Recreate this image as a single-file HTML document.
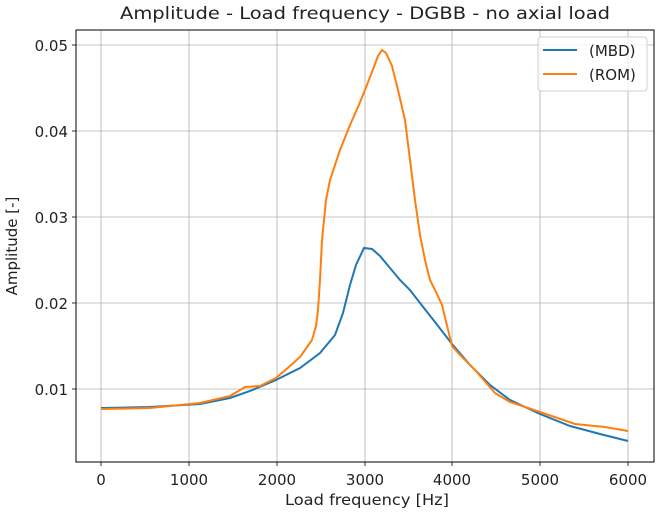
<!DOCTYPE html><html><head><style>body{margin:0;background:#fff}</style></head><body>
<svg width="659" height="515" xmlns="http://www.w3.org/2000/svg" font-family="DejaVu Sans, Liberation Sans, sans-serif">
<rect width="659" height="515" fill="#fff"/>
<g stroke="#b0b0b0" stroke-width="0.8">
<line x1="101" y1="30" x2="101" y2="462"/><line x1="189" y1="30" x2="189" y2="462"/><line x1="277" y1="30" x2="277" y2="462"/><line x1="365" y1="30" x2="365" y2="462"/><line x1="452" y1="30" x2="452" y2="462"/><line x1="540" y1="30" x2="540" y2="462"/><line x1="628" y1="30" x2="628" y2="462"/>
<line x1="76" y1="45" x2="654" y2="45"/><line x1="76" y1="131" x2="654" y2="131"/><line x1="76" y1="217" x2="654" y2="217"/><line x1="76" y1="303" x2="654" y2="303"/><line x1="76" y1="389" x2="654" y2="389"/>
</g>
<polyline fill="none" stroke="#1f77b4" stroke-width="2" points="101,408 150,407 200,404 230,398 250,391 276,380 300,368 320,353 335,335 343,313 350,285 356,265 364,248 372,249 380,256 390,268 400,280 410,290 420,303 435,322 452,344 470,365 490,385 510,400 540,414 570,426 600,434 628,441"/>
<polyline fill="none" stroke="#ff7f0e" stroke-width="2" points="101,409 150,408 200,403 230,396 245,387 260,386 276,378 290,366 300,357 305,350 312,340 316,326 318,310 320,280 322,240 326,200 330,180 340,150 350,125 358,107 365,90 372,72 378,56 382,50 386,53 392,66 398,90 405,120 410,160 415,200 420,235 425,260 430,280 436,292 442,305 452,346 460,355 475,370 495,393 510,402 540,412 575,424 605,427 628,431"/>
<rect x="76" y="30" width="578" height="432" fill="none" stroke="#000" stroke-width="1"/>
<g stroke="#000" stroke-width="0.8">
<line x1="101" y1="462" x2="101" y2="466"/><line x1="189" y1="462" x2="189" y2="466"/><line x1="277" y1="462" x2="277" y2="466"/><line x1="365" y1="462" x2="365" y2="466"/><line x1="452" y1="462" x2="452" y2="466"/><line x1="540" y1="462" x2="540" y2="466"/><line x1="628" y1="462" x2="628" y2="466"/>
<line x1="72" y1="45" x2="76" y2="45"/><line x1="72" y1="131" x2="76" y2="131"/><line x1="72" y1="217" x2="76" y2="217"/><line x1="72" y1="303" x2="76" y2="303"/><line x1="72" y1="389" x2="76" y2="389"/>
</g>
<g font-size="15" fill="#222" text-anchor="middle">
<text x="101" y="485">0</text><text x="189" y="485">1000</text><text x="277" y="485">2000</text><text x="365" y="485">3000</text><text x="452" y="485">4000</text><text x="540" y="485">5000</text><text x="628" y="485">6000</text>
</g>
<g font-size="15" fill="#222" text-anchor="end">
<text x="68" y="51">0.05</text><text x="68" y="137">0.04</text><text x="68" y="223">0.03</text><text x="68" y="309">0.02</text><text x="68" y="395">0.01</text>
</g>
<text x="285" y="505" font-size="15" fill="#222" textLength="164" lengthAdjust="spacingAndGlyphs">Load frequency [Hz]</text>
<text x="17" y="246" font-size="15" text-anchor="middle" fill="#222" transform="rotate(-90 17 246)">Amplitude [-]</text>
<text x="120" y="19" font-size="17" fill="#222" textLength="490" lengthAdjust="spacingAndGlyphs">Amplitude - Load frequency - DGBB - no axial load</text>
<rect x="538" y="37" width="109" height="54" rx="3" fill="#fff" fill-opacity="0.8" stroke="#d0d0d0"/>
<line x1="543" y1="50" x2="577" y2="50" stroke="#1f77b4" stroke-width="2"/>
<line x1="543" y1="74" x2="577" y2="74" stroke="#ff7f0e" stroke-width="2"/>
<text x="589" y="56" font-size="15" fill="#222">(MBD)</text>
<text x="589" y="80" font-size="15" fill="#222">(ROM)</text>
</svg></body></html>
